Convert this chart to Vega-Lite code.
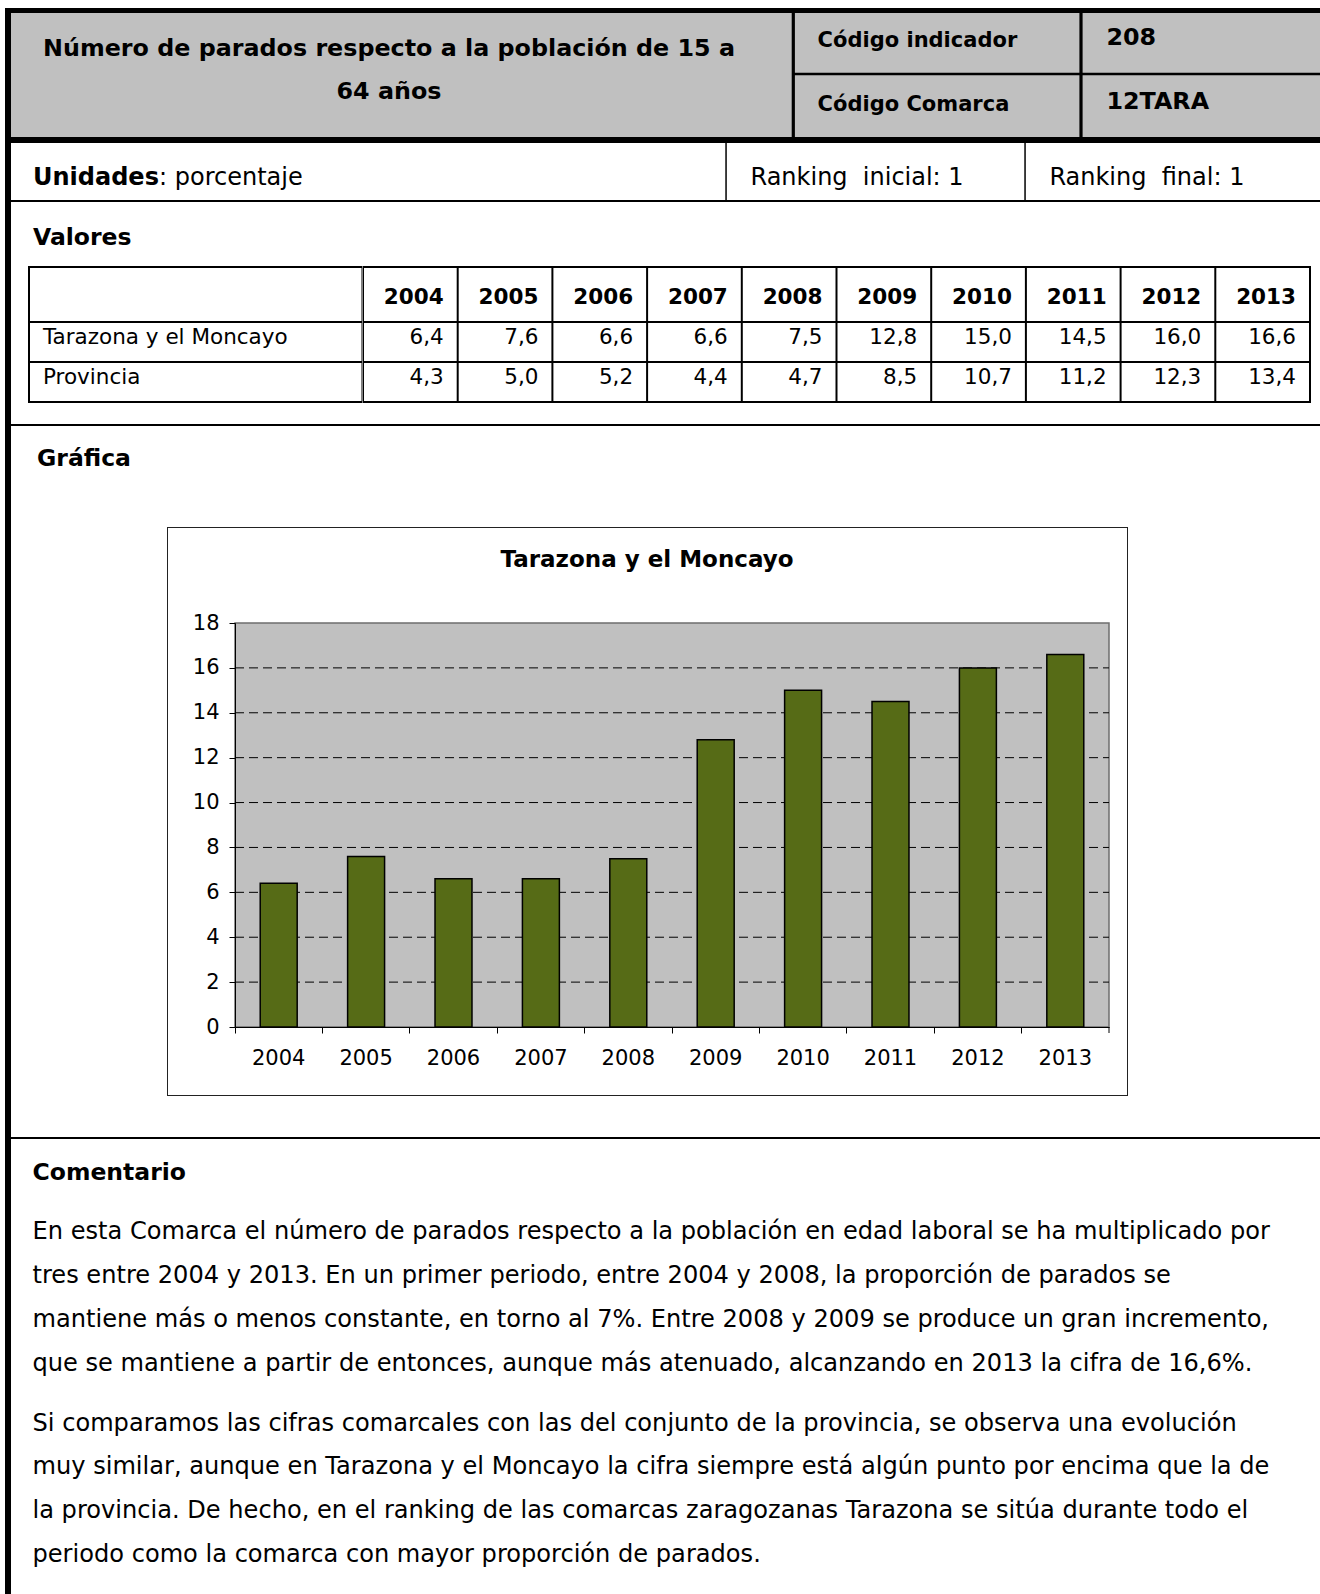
{
  "$schema": "https://vega.github.io/schema/vega-lite/v6.json",
  "padding": {"left": 5, "top": 8, "right": 0, "bottom": 0},
  "background": "white",
  "config": {
    "font": "DejaVu Sans",
    "view": {"stroke": null},
    "concat": {"spacing": 0},
    "text": {"color": "black", "dy": 2},
    "locale": {"number": {"decimal": ",", "thousands": ".", "grouping": [3], "currency": ["", " €"]}}
  },
  "datasets": {
    "vals": [
      {"year": "2004", "region": "Tarazona y el Moncayo", "value": 6.4},
      {"year": "2005", "region": "Tarazona y el Moncayo", "value": 7.6},
      {"year": "2006", "region": "Tarazona y el Moncayo", "value": 6.6},
      {"year": "2007", "region": "Tarazona y el Moncayo", "value": 6.6},
      {"year": "2008", "region": "Tarazona y el Moncayo", "value": 7.5},
      {"year": "2009", "region": "Tarazona y el Moncayo", "value": 12.8},
      {"year": "2010", "region": "Tarazona y el Moncayo", "value": 15.0},
      {"year": "2011", "region": "Tarazona y el Moncayo", "value": 14.5},
      {"year": "2012", "region": "Tarazona y el Moncayo", "value": 16.0},
      {"year": "2013", "region": "Tarazona y el Moncayo", "value": 16.6},
      {"year": "2004", "region": "Provincia", "value": 4.3},
      {"year": "2005", "region": "Provincia", "value": 5.0},
      {"year": "2006", "region": "Provincia", "value": 5.2},
      {"year": "2007", "region": "Provincia", "value": 4.4},
      {"year": "2008", "region": "Provincia", "value": 4.7},
      {"year": "2009", "region": "Provincia", "value": 8.5},
      {"year": "2010", "region": "Provincia", "value": 10.7},
      {"year": "2011", "region": "Provincia", "value": 11.2},
      {"year": "2012", "region": "Provincia", "value": 12.3},
      {"year": "2013", "region": "Provincia", "value": 13.4}
    ],
    "years": [
      {"year": "2004"}, {"year": "2005"}, {"year": "2006"}, {"year": "2007"}, {"year": "2008"},
      {"year": "2009"}, {"year": "2010"}, {"year": "2011"}, {"year": "2012"}, {"year": "2013"}
    ],
    "regions": [{"region": "Tarazona y el Moncayo"}, {"region": "Provincia"}],
    "gridlines": [{"v": 2}, {"v": 4}, {"v": 6}, {"v": 8}, {"v": 10}, {"v": 12}, {"v": 14}, {"v": 16}],
    "p1": [
      {"line": 1, "t": "En esta Comarca el número de parados respecto a la población en edad laboral se ha multiplicado por"},
      {"line": 2, "t": "tres entre 2004 y 2013. En un primer periodo, entre 2004 y 2008, la proporción de parados se"},
      {"line": 3, "t": "mantiene más o menos constante, en torno al 7%. Entre 2008 y 2009 se produce un gran incremento,"},
      {"line": 4, "t": "que se mantiene a partir de entonces, aunque más atenuado, alcanzando en 2013 la cifra de 16,6%."}
    ],
    "p2": [
      {"line": 5, "t": "Si comparamos las cifras comarcales con las del conjunto de la provincia, se observa una evolución"},
      {"line": 6, "t": "muy similar, aunque en Tarazona y el Moncayo la cifra siempre está algún punto por encima que la de"},
      {"line": 7, "t": "la provincia. De hecho, en el ranking de las comarcas zaragozanas Tarazona se sitúa durante todo el"},
      {"line": 8, "t": "periodo como la comarca con mayor proporción de parados."}
    ]
  },
  "spacing": 0,
  "hconcat": [
    {"width": 6, "height": 1586, "data": {"values": []}, "mark": "point", "view": {"fill": "black"}},
    {
      "spacing": 0,
      "vconcat": [
        {"width": 1309, "height": 5, "data": {"values": []}, "mark": "point", "view": {"fill": "black"}},
        {
          "spacing": 0,
          "bounds": "flush",
          "hconcat": [
            {
              "width": 782, "height": 124, "view": {"fill": "#C0C0C0"},
              "data": {"values": [{"line": 1, "t": "Número de parados respecto a la población de 15 a"}, {"line": 2, "t": "64 años"}]},
              "mark": {"type": "text", "fontWeight": "bold", "fontSize": 23.8, "align": "center", "baseline": "middle"},
              "encoding": {
                "x": {"value": 378},
                "y": {"field": "line", "type": "ordinal", "axis": null, "scale": {"type": "point", "padding": 0, "range": [33.5, 77]}},
                "text": {"field": "t"}
              }
            },
            {
              "width": 527, "height": 124, "view": {"fill": "#C0C0C0"},
              "layer": [
                {
                  "data": {"values": [{"row": 1, "k": "Código indicador"}, {"row": 2, "k": "Código Comarca"}]},
                  "mark": {"type": "text", "fontWeight": "bold", "fontSize": 21, "align": "left", "baseline": "middle"},
                  "encoding": {
                    "x": {"value": 24.6},
                    "y": {"field": "row", "type": "ordinal", "axis": null, "scale": {"type": "point", "padding": 0, "range": [25.6, 89.7]}},
                    "text": {"field": "k"}
                  }
                },
                {
                  "data": {"values": [{"row": 1, "v": "208"}, {"row": 2, "v": "12TARA"}]},
                  "mark": {"type": "text", "fontWeight": "bold", "fontSize": 23.8, "align": "left", "baseline": "middle", "dy": -0.5},
                  "encoding": {
                    "x": {"value": 313.4},
                    "y": {"field": "row", "type": "ordinal", "axis": null},
                    "text": {"field": "v"}
                  }
                },
                {"data": {"values": [{}]}, "mark": {"type": "rect", "color": "black"}, "encoding": {"x": {"value": -1.3}, "x2": {"value": 1.9}, "y": {"value": 0}, "y2": {"value": 124}}},
                {"data": {"values": [{}]}, "mark": {"type": "rect", "color": "black"}, "encoding": {"x": {"value": 286.4}, "x2": {"value": 289.6}, "y": {"value": 0}, "y2": {"value": 124}}},
                {"data": {"values": [{}]}, "mark": {"type": "rect", "color": "black"}, "encoding": {"x": {"value": 0}, "x2": {"value": 527}, "y": {"value": 59.8}, "y2": {"value": 62.3}}}
              ]
            }
          ]
        },
        {"width": 1309, "height": 6, "data": {"values": []}, "mark": "point", "view": {"fill": "black"}},
        {
          "width": 1309, "height": 57,
          "data": {"values": [{}]},
          "layer": [
            {"mark": {"type": "text", "text": "Unidades", "fontWeight": "bold", "fontSize": 24, "align": "left", "baseline": "middle"}, "encoding": {"x": {"value": 22}, "y": {"value": 32.5}}},
            {"mark": {"type": "text", "text": ": porcentaje", "fontSize": 24, "align": "left", "baseline": "middle"}, "encoding": {"x": {"value": 148}, "y": {"value": 32.5}}},
            {"mark": {"type": "text", "text": "Ranking\u00a0 inicial: 1", "fontSize": 24, "align": "left", "baseline": "middle"}, "encoding": {"x": {"value": 739.5}, "y": {"value": 32.5}}},
            {"mark": {"type": "text", "text": "Ranking\u00a0 final: 1", "fontSize": 24, "align": "left", "baseline": "middle"}, "encoding": {"x": {"value": 1038.4}, "y": {"value": 32.5}}},
            {"mark": {"type": "rect", "color": "black"}, "encoding": {"x": {"value": 714.3}, "x2": {"value": 715.8}, "y": {"value": 0}, "y2": {"value": 57}}},
            {"mark": {"type": "rect", "color": "black"}, "encoding": {"x": {"value": 1013.3}, "x2": {"value": 1014.8}, "y": {"value": 0}, "y2": {"value": 57}}}
          ]
        },
        {"width": 1309, "height": 2, "data": {"values": []}, "mark": "point", "view": {"fill": "black"}},
        {
          "spacing": 0,
          "vconcat": [
            {
              "width": 1309, "height": 64, "data": {"values": [{}]},
              "mark": {"type": "text", "text": "Valores", "fontWeight": "bold", "fontSize": 23.5, "align": "left", "baseline": "middle"},
              "encoding": {"x": {"value": 22}, "y": {"value": 34}}
            },
            {
              "spacing": 0,
              "bounds": "flush",
              "hconcat": [
                {"width": 16.5, "height": 137, "data": {"values": []}, "mark": "point"},
                {
                  "width": 334.5, "height": 137, "view": {"fill": "black"},
                  "layer": [
                    {
                      "data": {"values": [{}]},
                      "mark": {"type": "rect", "color": "white"},
                      "encoding": {"x": {"value": 2}, "x2": {"value": 333.5}, "y": {"value": 2}, "y2": {"value": 55}}
                    },
                    {
                      "data": {"name": "regions"},
                      "mark": {"type": "rect", "color": "white"},
                      "encoding": {
                        "y": {"field": "region", "type": "nominal", "sort": null, "axis": null, "scale": {"range": [55, 137], "paddingInner": 0.05, "paddingOuter": 0.05}},
                        "x": {"value": 2}, "x2": {"value": 333.5}
                      }
                    },
                    {
                      "data": {"name": "regions"},
                      "mark": {"type": "text", "fontSize": 21.5, "align": "left", "baseline": "middle", "dy": -4},
                      "encoding": {
                        "x": {"value": 15},
                        "y": {"field": "region", "type": "nominal", "sort": null, "axis": null},
                        "text": {"field": "region"}
                      }
                    }
                  ]
                },
                {
                  "width": 948, "height": 137, "view": {"fill": "black"},
                  "layer": [
                    {
                      "data": {"name": "years"},
                      "mark": {"type": "rect", "color": "white"},
                      "encoding": {
                        "x": {"field": "year", "type": "ordinal", "axis": null, "scale": {"type": "band", "range": [0, 947], "paddingInner": 0.02112, "paddingOuter": 0.01056}},
                        "y": {"value": 2}, "y2": {"value": 55}
                      }
                    },
                    {
                      "data": {"name": "years"},
                      "mark": {"type": "text", "fontWeight": "bold", "fontSize": 21.5, "align": "right", "baseline": "middle", "dx": -13},
                      "encoding": {
                        "x": {"field": "year", "type": "ordinal", "axis": null, "bandPosition": 1},
                        "y": {"value": 30},
                        "text": {"field": "year"}
                      }
                    },
                    {
                      "data": {"name": "vals"},
                      "mark": {"type": "rect", "color": "white"},
                      "encoding": {
                        "x": {"field": "year", "type": "ordinal", "axis": null},
                        "y": {"field": "region", "type": "nominal", "sort": null, "axis": null, "scale": {"range": [55, 137], "paddingInner": 0.05, "paddingOuter": 0.05}}
                      }
                    },
                    {
                      "data": {"name": "vals"},
                      "mark": {"type": "text", "fontSize": 21.5, "align": "right", "baseline": "middle", "dx": -13, "dy": -4},
                      "encoding": {
                        "x": {"field": "year", "type": "ordinal", "axis": null, "bandPosition": 1},
                        "y": {"field": "region", "type": "nominal", "sort": null, "axis": null},
                        "text": {"field": "value", "type": "quantitative", "format": ".1f"}
                      }
                    }
                  ]
                },
                {"width": 10, "height": 137, "data": {"values": []}, "mark": "point"}
              ]
            },
            {"width": 1309, "height": 21, "data": {"values": []}, "mark": "point"}
          ]
        },
        {"width": 1309, "height": 2, "data": {"values": []}, "mark": "point", "view": {"fill": "black"}},
        {
          "spacing": 0,
          "vconcat": [
            {
              "width": 1309, "height": 101, "data": {"values": [{}]},
              "mark": {"type": "text", "text": "Gráfica", "fontWeight": "bold", "fontSize": 23.5, "align": "left", "baseline": "middle"},
              "encoding": {"x": {"value": 26}, "y": {"value": 31}}
            },
            {
              "spacing": 0,
              "bounds": "flush",
              "hconcat": [
                {"width": 156, "height": 569, "data": {"values": []}, "mark": "point"},
                {
                  "width": 961, "height": 569,
                  "view": {"fill": "#222222"},
                  "layer": [
                    {
                      "data": {"values": [{}]},
                      "mark": {"type": "rect", "color": "white"},
                      "encoding": {"x": {"value": 1}, "x2": {"value": 960}, "y": {"value": 1}, "y2": {"value": 568}}
                    },
                    {
                      "data": {"values": [{}]},
                      "mark": {"type": "rect", "fill": "#C0C0C0", "stroke": "#6e6e6e", "strokeWidth": 1.5},
                      "encoding": {
                        "x": {"value": 68}, "x2": {"value": 942},
                        "y": {"datum": 18, "type": "quantitative", "scale": {"domain": [0, 18], "nice": false, "range": [500, 96]}, "axis": {
                          "title": null, "values": [0, 2, 4, 6, 8, 10, 12, 14, 16, 18], "offset": -68, "zindex": 1,
                          "labelFontSize": 21, "labelColor": "black", "labelPadding": 10,
                          "tickSize": 6, "tickColor": "black", "domainColor": "black", "grid": false
                        }},
                        "y2": {"datum": 0}
                      }
                    },
                    {
                      "data": {"name": "gridlines"},
                      "mark": {"type": "rule", "color": "black", "strokeWidth": 1, "strokeDash": [9, 5]},
                      "encoding": {
                        "x": {"value": 68}, "x2": {"value": 942},
                        "y": {"field": "v", "type": "quantitative"}
                      }
                    },
                    {
                      "data": {"name": "vals"},
                      "transform": [{"filter": "datum.region === 'Tarazona y el Moncayo'"}],
                      "mark": {"type": "bar", "color": "#566B16", "fill": "#566B16", "stroke": "black", "strokeWidth": 1.5},
                      "encoding": {
                        "x": {
                          "field": "year", "type": "ordinal",
                          "scale": {"range": [68, 942], "paddingInner": 0.577, "paddingOuter": 0.2885},
                          "axis": {
                            "title": null, "labelAngle": 0, "labelFontSize": 21, "labelColor": "black",
                            "labelPadding": 25, "labelBaseline": "middle", "tickSize": 6, "tickColor": "black",
                            "tickWidth": 1, "domainColor": "black", "domainWidth": 1, "bandPosition": -0.68,
                            "grid": false, "labelOverlap": false, "offset": -69, "zindex": 1
                          }
                        },
                        "y": {"field": "value", "type": "quantitative"}
                      }
                    },
                    {
                      "data": {"values": [{}]},
                      "mark": {"type": "rule", "color": "black", "strokeWidth": 1},
                      "encoding": {"x": {"value": 942}, "y": {"datum": 0}, "y2": {"value": 506}}
                    },
                    {
                      "data": {"values": [{}]},
                      "mark": {"type": "text", "text": "Tarazona y el Moncayo", "fontWeight": "bold", "fontSize": 23, "align": "center", "baseline": "middle"},
                      "encoding": {"x": {"value": 480}, "y": {"value": 31}}
                    }
                  ]
                },
                {"width": 192, "height": 569, "data": {"values": []}, "mark": "point"}
              ]
            },
            {"width": 1309, "height": 41, "data": {"values": []}, "mark": "point"}
          ]
        },
        {"width": 1309, "height": 2, "data": {"values": []}, "mark": "point", "view": {"fill": "black"}},
        {
          "width": 1309, "height": 455,
          "layer": [
            {
              "data": {"values": [{}]},
              "mark": {"type": "text", "text": "Comentario", "fontWeight": "bold", "fontSize": 23.5, "align": "left", "baseline": "middle"},
              "encoding": {"x": {"value": 21.5}, "y": {"value": 31.5}}
            },
            {
              "data": {"name": "p1"},
              "mark": {"type": "text", "fontSize": 24.1, "align": "left", "baseline": "middle"},
              "encoding": {
                "x": {"value": 21.5},
                "y": {"field": "line", "type": "ordinal", "axis": null, "scale": {"type": "point", "padding": 0, "range": [91.4, 222.6]}},
                "text": {"field": "t"}
              }
            },
            {
              "data": {"name": "p2"},
              "mark": {"type": "text", "fontSize": 24.1, "align": "left", "baseline": "middle"},
              "encoding": {
                "x": {"value": 21.5},
                "y": {"field": "line", "type": "ordinal", "axis": null, "scale": {"type": "point", "padding": 0, "range": [282.6, 413.8]}},
                "text": {"field": "t"}
              }
            }
          ],
          "resolve": {"scale": {"y": "independent"}}
        }
      ]
    }
  ]
}
